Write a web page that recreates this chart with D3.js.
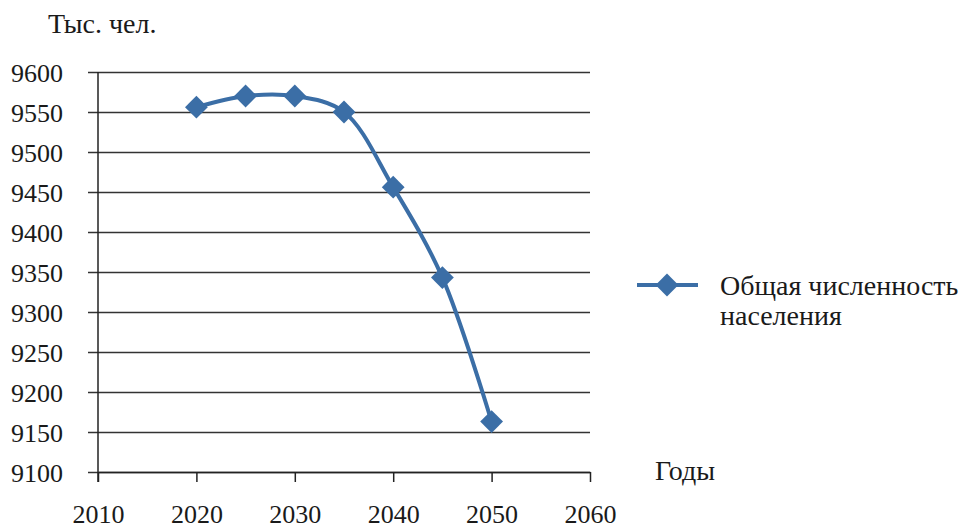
<!DOCTYPE html>
<html>
<head>
<meta charset="utf-8">
<script src="https://cdn.jsdelivr.net/npm/d3@7"></script>
<style>
  body { margin: 0; background: #fff; }
  text { font-family: "Liberation Serif", "Times New Roman", serif; fill: #1a1a1a; }
</style>
</head>
<body>
<div id="svg-container"></div>
<script>
// данные
const years = [2020, 2025, 2030, 2035, 2040, 2045, 2050]
const population = [9556, 9570, 9570, 9550, 9456, 9343, 9163]
const xTicks = [2010, 2020, 2030, 2040, 2050, 2060]
const yTicks = [9100, 9150, 9200, 9250, 9300, 9350, 9400, 9450, 9500, 9550, 9600]
const seriesName = ['Общая численность', 'населения']

const width = 961
const height = 526
const margin = { top: 72, right: 371, bottom: 54, left: 98 }
const innerWidth = width - margin.left - margin.right
const innerHeight = height - margin.top - margin.bottom
const blue = '#3b6ea6'

const svg = d3.select('#svg-container')
    .append('svg').attr('width', width).attr('height', height)

const xScale = d3.scaleLinear().domain([2010, 2060]).range([0, innerWidth])
const yScale = d3.scaleLinear().domain([9100, 9600]).range([innerHeight, 0])

const g = svg.append('g')
    .attr('transform', `translate(${margin.left}, ${margin.top})`)

// горизонтальные линии сетки + подписи оси Y
const yAxis = g.append('g')
    .call(d3.axisLeft(yScale).tickValues(yTicks).tickFormat(d3.format('d'))
        .tickSize(-innerWidth).tickSizeOuter(0).tickPadding(0))
yAxis.select('.domain').remove()
yAxis.selectAll('.tick line')
    .attr('x1', -10).attr('stroke', '#333').attr('stroke-width', 1.5)
yAxis.selectAll('.tick text')
    .attr('x', -35).attr('dy', '0.35em')
    .style('font-size', '26px').style('font-family', '"Liberation Serif", serif').attr('fill', '#1a1a1a')

// ось X
const xAxis = g.append('g')
    .attr('transform', `translate(0, ${innerHeight})`)
    .call(d3.axisBottom(xScale).tickValues(xTicks).tickFormat(d3.format('d'))
        .tickSize(10).tickSizeOuter(0).tickPadding(23))
xAxis.select('.domain').attr('stroke', '#222').attr('stroke-width', 1.5)
xAxis.selectAll('.tick line').attr('stroke', '#222').attr('stroke-width', 1.5)
xAxis.selectAll('.tick text')
    .style('font-size', '26px').style('font-family', '"Liberation Serif", serif').attr('fill', '#1a1a1a')

// вертикальная ось
g.append('line')
    .attr('x1', 0).attr('x2', 0).attr('y1', 0).attr('y2', innerHeight + 10)
    .attr('stroke', '#222').attr('stroke-width', 1.5)

// линия
const data = years.map((y, i) => ({ year: y, value: population[i] }))
const line = d3.line()
    .x(d => xScale(d.year))
    .y(d => yScale(d.value))
    .curve(d3.curveCatmullRom.alpha(0.5))

g.append('path').datum(data)
    .attr('d', line)
    .attr('fill', 'none').attr('stroke', blue).attr('stroke-width', 4)

// маркеры-ромбы
const diamond = d3.symbol().type(d3.symbolSquare).size(260)
g.selectAll('.marker').data(data)
    .enter().append('path')
    .attr('class', 'marker')
    .attr('d', diamond)
    .attr('transform', d => `translate(${xScale(d.year)}, ${yScale(d.value)}) rotate(45)`)
    .attr('fill', blue)

// подписи осей
svg.append('text').attr('x', 48).attr('y', 33)
    .style('font-size', '28px').text('Тыс. чел.')
svg.append('text').attr('x', 655).attr('y', 480)
    .style('font-size', '28px').text('Годы')

// легенда
const legend = svg.append('g').attr('transform', 'translate(637, 285)')
legend.append('line').attr('x1', 0).attr('x2', 61).attr('y1', 0).attr('y2', 0)
    .attr('stroke', blue).attr('stroke-width', 4)
legend.append('path').attr('d', diamond)
    .attr('transform', 'translate(30, 0) rotate(45)').attr('fill', blue)
legend.append('text').attr('x', 83).attr('y', 10)
    .style('font-size', '28px')
    .selectAll('tspan').data(seriesName)
    .enter().append('tspan')
    .attr('x', 83).attr('dy', (d, i) => i === 0 ? 0 : 30)
    .text(d => d)
</script>
</body>
</html>
